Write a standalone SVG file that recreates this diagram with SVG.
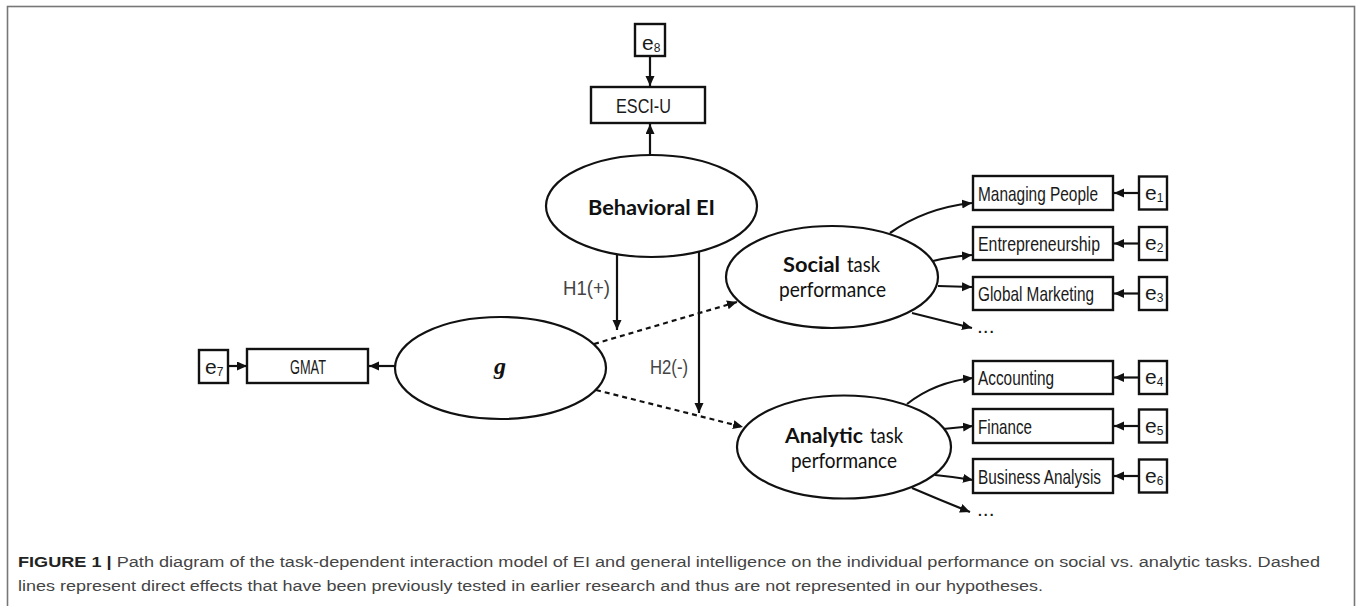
<svg xmlns="http://www.w3.org/2000/svg" width="1357" height="606" viewBox="0 0 1357 606">
<style>
.box{fill:#fff;stroke:#111;stroke-width:2.4}
.ell{fill:#fff;stroke:#111;stroke-width:2.2}
.con{fill:none;stroke:#111;stroke-width:2.2}
.dash{fill:none;stroke:#111;stroke-width:2.2;stroke-dasharray:5,4}
.bt{font-family:"Liberation Sans Narrow","Liberation Sans",Arial,sans-serif;font-size:21px;fill:#1a1a1a}
.et{font-family:"Liberation Sans Narrow","Liberation Sans",Arial,sans-serif;font-size:21px;fill:#1a1a1a}
.sub{font-size:12px}
.lt{font-family:Lato,"Open Sans","Liberation Sans",sans-serif;font-size:20.5px;fill:#111}
.lb{font-family:Lato,"Open Sans","Liberation Sans",sans-serif;font-size:20.5px;font-weight:bold;fill:#111}
.hl{font-family:"Liberation Sans Narrow","Liberation Sans",Arial,sans-serif;font-size:19.5px;fill:#444}
.cap{font-family:"Liberation Sans",Arial,sans-serif;font-size:15.5px;fill:#444}
</style>
<defs>
<marker id="ah" markerUnits="userSpaceOnUse" markerWidth="11" markerHeight="10" refX="10" refY="4.5" orient="auto">
<path d="M0,0 L10,4.5 L0,9 z" fill="#111"/>
</marker>
</defs>
<rect x="7.5" y="6.5" width="1347" height="640" fill="none" stroke="#777" stroke-width="1.6"/>

<g id="connectors">
<line class="con" x1="650" y1="56" x2="650" y2="86" marker-end="url(#ah)"/>
<line class="con" x1="650" y1="155" x2="650" y2="124" marker-end="url(#ah)"/>
<line class="con" x1="617" y1="254" x2="617" y2="330" marker-end="url(#ah)"/>
<line class="con" x1="699" y1="251" x2="699" y2="413" marker-end="url(#ah)"/>
<line class="con" x1="228" y1="366" x2="247" y2="366" marker-end="url(#ah)"/>
<line class="con" x1="395" y1="366" x2="369" y2="366" marker-end="url(#ah)"/>
<line class="dash" x1="594" y1="344" x2="737" y2="302" marker-end="url(#ah)"/>
<line class="dash" x1="596" y1="390" x2="743" y2="427" marker-end="url(#ah)"/>
<path class="con" d="M890,233 Q925,208 972,203" marker-end="url(#ah)"/>
<path class="con" d="M933,261 Q950,257 972,255" marker-end="url(#ah)"/>
<path class="con" d="M938,286 L972,287" marker-end="url(#ah)"/>
<path class="con" d="M912,313 Q940,320 972,328" marker-end="url(#ah)"/>
<path class="con" d="M907,404 Q935,382 973,378" marker-end="url(#ah)"/>
<path class="con" d="M943,429 L973,426" marker-end="url(#ah)"/>
<path class="con" d="M935,475 Q955,477 973,480" marker-end="url(#ah)"/>
<path class="con" d="M912,488 Q940,500 970,512" marker-end="url(#ah)"/>
<line class="con" x1="1139" y1="193" x2="1114" y2="193" marker-end="url(#ah)"/>
<line class="con" x1="1139" y1="243.5" x2="1114" y2="243.5" marker-end="url(#ah)"/>
<line class="con" x1="1139" y1="293.5" x2="1114" y2="293.5" marker-end="url(#ah)"/>
<line class="con" x1="1139" y1="377.5" x2="1114" y2="377.5" marker-end="url(#ah)"/>
<line class="con" x1="1139" y1="426" x2="1114" y2="426" marker-end="url(#ah)"/>
<line class="con" x1="1139" y1="476" x2="1114" y2="476" marker-end="url(#ah)"/>
<text class="hl" x="563" y="295" textLength="47" lengthAdjust="spacingAndGlyphs">H1(+)</text>
<text class="hl" x="650" y="374" textLength="38" lengthAdjust="spacingAndGlyphs">H2(-)</text>
<text class="bt" x="977" y="333">...</text>
<text class="bt" x="977" y="516">...</text>
</g>

<g id="e8"><rect class="box" x="635" y="24" width="30" height="32"/><text class="et" x="642" y="50">e<tspan class="sub" dy="2">8</tspan></text></g>
<g id="esci"><rect class="box" x="591" y="87" width="114" height="36"/><text class="bt" x="616" y="112.5" textLength="55" lengthAdjust="spacingAndGlyphs">ESCI-U</text></g>
<g id="behavioral"><ellipse class="ell" cx="651.5" cy="206" rx="105.5" ry="51"/><text class="lb" x="588" y="215" font-size="22" textLength="127" lengthAdjust="spacingAndGlyphs">Behavioral EI</text></g>
<g id="g-node"><ellipse class="ell" cx="500.5" cy="368" rx="105.5" ry="51"/><text x="500" y="374" text-anchor="middle" font-family="'Liberation Serif',serif" font-weight="bold" font-style="italic" font-size="24" fill="#111">g</text></g>
<g id="gmat"><rect class="box" x="247" y="349" width="121" height="34"/><text class="bt" x="290" y="374" textLength="36" lengthAdjust="spacingAndGlyphs">GMAT</text></g>
<g id="e7"><rect class="box" x="199" y="350" width="29" height="33"/><text class="et" x="205" y="374">e<tspan class="sub" dy="2">7</tspan></text></g>

<g id="social"><ellipse class="ell" cx="832" cy="277" rx="106" ry="51"/>
<text class="lb" x="783" y="272" textLength="57" lengthAdjust="spacingAndGlyphs">Social</text>
<text class="lt" x="847" y="272" textLength="33" lengthAdjust="spacingAndGlyphs">task</text>
<text class="lt" x="779" y="297" textLength="107" lengthAdjust="spacingAndGlyphs">performance</text></g>
<g id="analytic"><ellipse class="ell" cx="844" cy="447" rx="107" ry="51.5"/>
<text class="lb" x="785" y="443" textLength="78" lengthAdjust="spacingAndGlyphs">Analytic</text>
<text class="lt" x="870" y="443" textLength="33" lengthAdjust="spacingAndGlyphs">task</text>
<text class="lt" x="791" y="468" textLength="106" lengthAdjust="spacingAndGlyphs">performance</text></g>

<g id="managing"><rect class="box" x="973" y="176" width="140" height="34"/><text class="bt" x="978" y="201" textLength="120" lengthAdjust="spacingAndGlyphs">Managing People</text></g>
<g id="entre"><rect class="box" x="973" y="227" width="140" height="33"/><text class="bt" x="978" y="251" textLength="122" lengthAdjust="spacingAndGlyphs">Entrepreneurship</text></g>
<g id="global"><rect class="box" x="973" y="277" width="140" height="33"/><text class="bt" x="978" y="301" textLength="116" lengthAdjust="spacingAndGlyphs">Global Marketing</text></g>
<g id="accounting"><rect class="box" x="973" y="361" width="140" height="33"/><text class="bt" x="978" y="385" textLength="76" lengthAdjust="spacingAndGlyphs">Accounting</text></g>
<g id="finance"><rect class="box" x="973" y="409" width="140" height="34"/><text class="bt" x="978" y="434" textLength="54" lengthAdjust="spacingAndGlyphs">Finance</text></g>
<g id="business"><rect class="box" x="973" y="459" width="140" height="34"/><text class="bt" x="978" y="484" textLength="123" lengthAdjust="spacingAndGlyphs">Business Analysis</text></g>

<g id="e1"><rect class="box" x="1139" y="176.5" width="28" height="33"/><text class="et" x="1145" y="199.5">e<tspan class="sub" dy="2">1</tspan></text></g>
<g id="e2"><rect class="box" x="1139" y="227" width="28" height="33"/><text class="et" x="1145" y="250">e<tspan class="sub" dy="2">2</tspan></text></g>
<g id="e3"><rect class="box" x="1139" y="277" width="28" height="33"/><text class="et" x="1145" y="300">e<tspan class="sub" dy="2">3</tspan></text></g>
<g id="e4"><rect class="box" x="1139" y="361" width="28" height="33"/><text class="et" x="1145" y="384">e<tspan class="sub" dy="2">4</tspan></text></g>
<g id="e5"><rect class="box" x="1139" y="409.5" width="28" height="33"/><text class="et" x="1145" y="432.5">e<tspan class="sub" dy="2">5</tspan></text></g>
<g id="e6"><rect class="box" x="1139" y="459.5" width="28" height="33"/><text class="et" x="1145" y="482.5">e<tspan class="sub" dy="2">6</tspan></text></g>

<g id="caption">
<text class="cap" x="18" y="567" textLength="1302" lengthAdjust="spacingAndGlyphs"><tspan font-weight="bold" fill="#222">FIGURE 1 |</tspan> Path diagram of the task-dependent interaction model of EI and general intelligence on the individual performance on social vs. analytic tasks. Dashed</text>
<text class="cap" x="18" y="591" textLength="1025" lengthAdjust="spacingAndGlyphs">lines represent direct effects that have been previously tested in earlier research and thus are not represented in our hypotheses.</text>
</g>
</svg>
